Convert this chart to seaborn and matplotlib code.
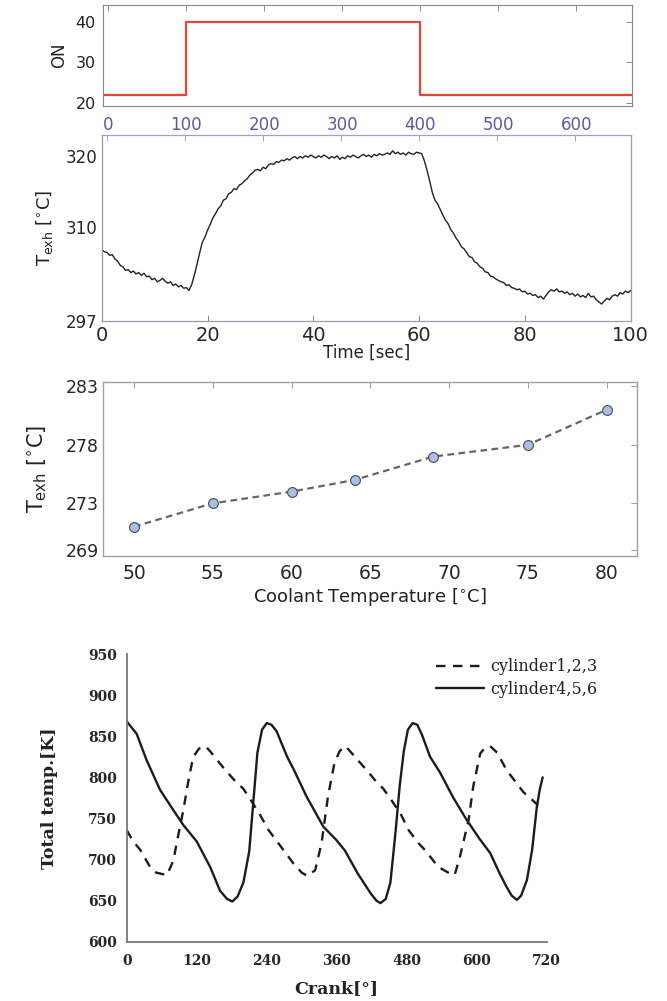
import numpy as np
import matplotlib
matplotlib.use("Agg")
import matplotlib.pyplot as plt
import seaborn as sns

# ---- values ----
# top panel: ON step signal
on_time = [-7, 100, 400, 672]
on_value = [22, 40, 22, 22]

# exhaust temperature trace, one reading every 0.5 s from 0 to 100 s
texh_values = [
    306.9, 306.6, 306.5, 306.1, 306.2, 305.6, 305.3, 304.7, 304.5, 304.0,
    304.1, 303.7, 303.9, 303.5, 303.7, 303.3, 303.6, 303.1, 303.2, 302.7,
    302.9, 302.4, 302.6, 302.9, 302.5, 302.2, 302.4, 301.9, 302.1, 301.7,
    301.9, 301.5, 301.6, 301.2, 302.0,
    303.3, 304.8, 306.4, 307.9, 308.6, 309.6, 310.4, 311.3, 311.9, 312.6,
    313.0, 313.8, 314.0, 314.7, 314.9, 315.4, 315.3, 315.9, 316.1, 316.5,
    316.8, 317.3, 317.6, 318.0, 318.1, 317.9, 318.4, 318.2, 318.7, 318.9,
    318.8, 319.2, 319.1, 319.4, 319.3, 319.6, 319.4, 319.7, 319.9, 319.6,
    319.9, 319.7, 320.0, 319.8, 320.1, 319.9, 319.7, 320.0, 319.8, 320.1,
    319.9, 319.6, 319.9, 319.7, 320.0, 319.5, 319.8, 319.6, 320.0, 319.8,
    320.1, 319.9, 319.7, 320.0, 320.2, 319.9, 320.1, 319.8, 320.2, 320.0,
    320.3, 320.1, 320.2, 320.4, 320.2, 320.7, 320.3, 320.5, 320.2, 320.4,
    320.1, 320.5, 320.3, 320.2, 320.5, 320.4, 320.3, 319.3, 318.0, 316.5,
    314.9, 313.8, 313.3, 312.5, 311.7, 311.0, 310.5, 309.7, 309.2, 308.5,
    308.0, 307.3, 307.0, 306.5, 305.9, 305.8, 305.2, 305.0, 304.5, 304.3,
    303.8, 303.7, 303.2, 303.1, 302.8, 302.6, 302.4, 302.3, 301.9, 302.0,
    301.6, 301.5, 301.3, 301.4, 301.0, 301.1, 300.7, 300.8, 300.5, 300.6,
    300.2, 300.4, 300.0, 300.5, 301.0, 301.3, 301.1, 301.4, 301.0, 301.1,
    300.8, 301.0, 300.6, 300.8, 300.4, 300.7, 300.3, 300.5, 300.2, 300.8,
    300.3, 300.4, 299.9, 299.6, 299.3, 299.7, 300.1, 299.9, 300.4, 300.6,
    300.4, 300.9, 300.7, 301.1, 300.9, 301.2,
]
texh_time = np.arange(len(texh_values)) * 0.5

# coolant temperature sweep
coolant_temp = [50, 55, 60, 64, 69, 75, 80]
coolant_texh = [271, 273, 274, 275, 277, 278, 281]

# total temperature vs crank angle
crank_solid = [0, 17, 34, 57, 80, 97, 120, 143, 160, 172, 181, 190, 200, 210,
               217, 224, 232, 240, 248, 257, 275, 286, 308, 337, 359, 374,
               396, 418, 428, 435, 444, 452, 461, 468, 475, 482, 490, 498,
               506, 520, 537, 560, 583, 605, 623, 640, 651, 660, 669, 676,
               686, 695, 703, 708, 713]
temp_solid = [868, 853, 821, 785, 760, 742, 722, 691, 662, 652, 649, 655, 672,
              710, 770, 830, 858, 866, 864, 856, 825, 810, 777, 740, 724, 711,
              683, 659, 650, 647, 652, 672, 735, 790, 832, 858, 866, 864,
              852, 825, 806, 775, 748, 725, 708, 682, 667, 656, 651, 656,
              675, 712, 764, 785, 800]
crank_dashed = [0, 10, 23, 40, 51, 69, 80, 89, 97, 106, 114, 124, 135, 145,
                155, 170, 184, 200, 213, 228, 243, 264, 286, 300, 310, 323,
                334, 345, 356, 365, 375, 385, 396, 410, 425, 440, 454, 470,
                483, 500, 512, 534, 554, 562, 571, 586, 594, 606, 614, 623,
                635, 651, 666, 680, 693, 705]
temp_dashed = [736, 723, 712, 691, 684, 681, 699, 732, 760, 797, 825, 835,
               838, 830, 821, 808, 797, 786, 772, 755, 736, 716, 695, 684,
               680, 687, 720, 777, 817, 832, 838, 830, 821, 810, 797, 786,
               772, 755, 736, 720, 711, 691, 683, 681, 703, 748, 789, 829,
               836, 838, 830, 809, 795, 782, 774, 766]

sns.set_theme(style="white")
plt.rcParams['font.family'] = ['DejaVu Sans']
plt.rcParams['mathtext.fontset'] = 'dejavusans'
plt.rcParams['text.color'] = '#222222'
plt.rcParams['axes.labelcolor'] = '#222222'

fig = plt.figure(figsize=(6.67, 10.01), dpi=100)
fig.patch.set_facecolor('white')

# ---------- panel 1: ON ----------
ax1 = fig.add_axes([0.154, 0.894, 0.794, 0.101])
sns.lineplot(x=on_time, y=on_value, ax=ax1, color='#e0463a', lw=1.6,
             drawstyle='steps-post', estimator=None)
ax1.set_xlim(-7, 672)
ax1.set_ylim(19.2, 44.1)
ax1.set_xticks(range(0, 700, 100))
ax1.set_yticks([20, 30, 40])
ax1.tick_params(direction='in', top=True, right=True, length=4, width=0.7,
                color='#8a8a8a')
ax1.tick_params(axis='x', labelsize=12, labelcolor='#5a5a9e', pad=7)
ax1.tick_params(axis='y', labelsize=11.5, labelcolor='#222222', pad=5)
for s in ax1.spines.values():
    s.set_color('#8a8a8a')
    s.set_linewidth(0.8)
ax1.set_ylabel('ON', fontsize=12)
ax1.yaxis.set_label_coords(-0.066, 0.5)

# ---------- panel 2: exhaust temperature vs time ----------
ax2 = fig.add_axes([0.1525, 0.6798, 0.793, 0.1853])
sns.lineplot(x=texh_time, y=texh_values, ax=ax2, color='#222222', lw=1.0,
             estimator=None)
ax2.set_xlim(0, 100)
ax2.set_ylim(297, 322.9)
ax2.set_xticks(range(0, 101, 20))
ax2.set_yticks([297, 310, 320])
ax2.tick_params(direction='in', length=4, width=0.7, color='#8a8a8a')
ax2.tick_params(axis='x', labelsize=14, pad=4)
ax2.tick_params(axis='y', labelsize=12, pad=3)
for s in ax2.spines.values():
    s.set_color('#9a9ab8')
    s.set_linewidth(0.9)
ax2.spines['top'].set_color('#a0a0d0')
ax2.set_xlabel('Time [sec]', fontsize=12)
ax2.xaxis.set_label_coords(0.5, -0.125)
ax2.xaxis.label.set_va('top')
ax2.set_ylabel(r'T$_{\mathrm{exh}}$ [$^{\circ}$C]', fontsize=13)
ax2.yaxis.set_label_coords(-0.088, 0.5)

# ticks on the top edge follow the ON time axis
ax2t = ax2.twiny()
ax2t.set_xlim(-7, 672)
ax2t.set_xticks(range(0, 700, 100))
ax2t.tick_params(direction='in', length=4, width=0.7, color='#a0a0d0',
                 labeltop=False)
ax2t.grid(False)
for s in ax2t.spines.values():
    s.set_visible(False)

# ---------- panel 3: exhaust temperature vs coolant temperature ----------
ax3 = fig.add_axes([0.1549, 0.4446, 0.8006, 0.1741])
sns.lineplot(x=coolant_temp, y=coolant_texh, ax=ax3, color='#666666', lw=1.6,
             estimator=None)
ax3.lines[-1].set_dashes([3.0, 2.0])
sns.scatterplot(x=coolant_temp, y=coolant_texh, ax=ax3, s=50,
                color='#a9c0e2', edgecolor='#4a4a55', linewidth=0.8, zorder=3)
ax3.set_xlim(48.05, 81.95)
ax3.set_ylim(268.5, 283.4)
ax3.set_xticks(range(50, 81, 5))
ax3.set_yticks([269, 273, 278, 283])
ax3.tick_params(direction='in', top=True, right=True, length=4, width=0.7,
                color='#9a9a9a')
ax3.tick_params(axis='x', labelsize=13.5, pad=6)
ax3.tick_params(axis='y', labelsize=12.5, pad=3)
for s in ax3.spines.values():
    s.set_color('#a0a0a0')
    s.set_linewidth(1.0)
ax3.set_xlabel(r'Coolant Temperature [$^{\circ}$C]', fontsize=13)
ax3.xaxis.set_label_coords(0.5, -0.175)
ax3.xaxis.label.set_va('top')
ax3.set_ylabel(r'T$_{\mathrm{exh}}$ [$^{\circ}$C]', fontsize=15)
ax3.yaxis.set_label_coords(-0.102, 0.5)

# ---------- panel 4: total temperature vs crank angle ----------
serif = ['DejaVu Serif']
ax4 = fig.add_axes([0.19, 0.0592, 0.6297, 0.2874])
sns.lineplot(x=crank_dashed, y=temp_dashed, ax=ax4, color='#1c1c1c', lw=1.7,
             estimator=None, sort=False, label='cylinder1,2,3')
ax4.lines[-1].set_dashes([4.0, 3.2])
sns.lineplot(x=crank_solid, y=temp_solid, ax=ax4, color='#1c1c1c', lw=1.7,
             estimator=None, sort=False, label='cylinder4,5,6')
ax4.set_xlim(0, 720)
ax4.set_ylim(600, 950)
ax4.set_xticks(range(0, 721, 120))
ax4.set_yticks(range(600, 951, 50))
ax4.spines['top'].set_visible(False)
ax4.spines['right'].set_visible(False)
for s in ('left', 'bottom'):
    ax4.spines[s].set_color('#777777')
    ax4.spines[s].set_linewidth(1.3)
ax4.tick_params(direction='in', length=6, width=1.2, color='#777777',
                labelsize=10)
ax4.tick_params(axis='x', pad=9)
ax4.tick_params(axis='y', pad=7)
for lab in ax4.get_xticklabels() + ax4.get_yticklabels():
    lab.set_family(serif)
    lab.set_fontweight('bold')
ax4.set_xlabel('Crank[°]', fontsize=12.5, family=serif, fontweight='bold')
ax4.xaxis.set_label_coords(0.5, -0.133)
ax4.xaxis.label.set_va('top')
ax4.set_ylabel('Total temp.[K]', fontsize=12.5, family=serif,
               fontweight='bold')
ax4.yaxis.set_label_coords(-0.164, 0.5)
ax4.legend(loc='upper left', bbox_to_anchor=(0.736, 0.985), frameon=False,
           prop={'family': serif, 'size': 11.5}, handlelength=3.0,
           handletextpad=0.4, labelspacing=0.35, borderpad=0,
           borderaxespad=0)

fig.savefig('out.png', dpi=100, facecolor='white')
